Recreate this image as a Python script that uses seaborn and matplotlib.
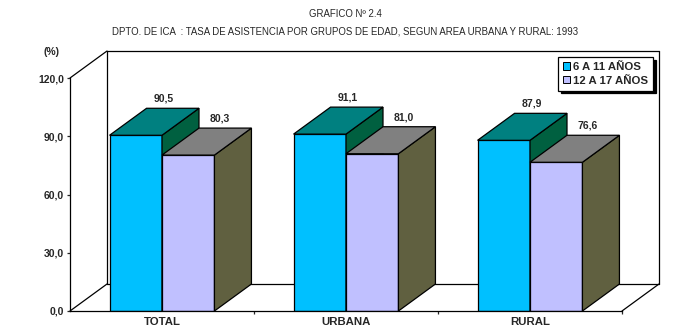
import numpy as np
import pandas as pd
import matplotlib
matplotlib.use("Agg")
import matplotlib.pyplot as plt
from matplotlib.patches import Polygon
from matplotlib.lines import Line2D
import seaborn as sns

# ---- data ----
areas = ["TOTAL", "URBANA", "RURAL"]
grupos = ["6 A 11 AÑOS", "12 A 17 AÑOS"]
tasa_6_11 = [90.5, 91.1, 87.9]
tasa_12_17 = [80.3, 81.0, 76.6]
yticks = [0, 30, 60, 90, 120]
title1 = "GRAFICO Nº 2.4"
title2 = "DPTO. DE ICA  : TASA DE ASISTENCIA POR GRUPOS DE EDAD, SEGUN AREA URBANA Y RURAL: 1993"

df = pd.DataFrame({
    "area": areas * 2,
    "grupo": [grupos[0]] * 3 + [grupos[1]] * 3,
    "tasa": tasa_6_11 + tasa_12_17,
})

front_colors = ["#00C0FF", "#C0C0FF"]
top_colors = ["#008080", "#808080"]
side_colors = ["#006040", "#606040"]

sns.set_style("white")
plt.rcParams["font.family"] = ["Liberation Sans", "DejaVu Sans"]

W, H = 689, 334
fig = plt.figure(figsize=(W / 100, H / 100), dpi=100)
ax = fig.add_axes([70 / W, (H - 311) / H, 552 / W, 233 / H])
ax.patch.set_alpha(0)

sns.barplot(data=df, x="area", y="tasa", hue="grupo", palette=front_colors,
            width=0.57, edgecolor="black", linewidth=0.9, saturation=1,
            ax=ax, legend=True)

ax.set_xlim(-0.5, 2.5)
ax.set_ylim(0, 120)

# depth offsets in data units
DX = 37 / 184
DY = 27 / (233 / 120)

lw = 0.9
x0, x1 = -0.5, 2.5
wall_lines = [
    ([x0 + DX, x0 + DX], [DY, 120 + DY]),
    ([x0 + DX, x1 + DX], [120 + DY, 120 + DY]),
    ([x1 + DX, x1 + DX], [120 + DY, DY]),
    ([x0 + DX, x1 + DX], [DY, DY]),
    ([x0, x0 + DX], [0, DY]),
    ([x0, x0 + DX], [120, 120 + DY]),
    ([x1, x1 + DX], [0, DY]),
]
for xs, ys in wall_lines:
    ax.add_line(Line2D(xs, ys, color="black", lw=lw, clip_on=False, zorder=0.5))

# 3D faces for bars
for i, cont in enumerate(ax.containers):
    z = 2 + i
    for p in cont.patches:
        p.set_zorder(z)
        bx0 = p.get_x()
        bx1 = bx0 + p.get_width()
        h = p.get_height()
        top = Polygon([(bx0, h), (bx1, h), (bx1 + DX, h + DY), (bx0 + DX, h + DY)],
                      closed=True, facecolor=top_colors[i], edgecolor="black",
                      lw=lw, clip_on=False, zorder=z)
        side = Polygon([(bx1, 0), (bx1 + DX, DY), (bx1 + DX, h + DY), (bx1, h)],
                       closed=True, facecolor=side_colors[i], edgecolor="black",
                       lw=lw, clip_on=False, zorder=z)
        ax.add_patch(side)
        ax.add_patch(top)
        ax.text(bx0 + p.get_width() / 2 + 0.15 + 0.02 * i, h + DY + 2.3,
                f"{h:.1f}".replace(".", ","), ha="center", va="bottom",
                fontsize=7.5, fontweight="bold", zorder=6, clip_on=False)

# axes styling
for s in ["top", "right"]:
    ax.spines[s].set_visible(False)
for s in ["left", "bottom"]:
    ax.spines[s].set_linewidth(lw)
    ax.spines[s].set_color("black")
    ax.spines[s].set_zorder(4)

ax.set_yticks(yticks)
ax.set_yticklabels([f"{v:.1f}".replace(".", ",") for v in yticks],
                   fontsize=7.5, fontweight="bold")
ax.tick_params(axis="y", direction="out", length=2.2, width=lw, pad=2, left=True)
ax.set_xticks(range(len(areas)))
ax.set_xticklabels(areas, fontsize=8.2, fontweight="bold")
ax.tick_params(axis="x", which="major", length=0, pad=4.5)
ax.set_xticks([0.5, 1.5, 2.5], minor=True)
ax.tick_params(axis="x", which="minor", direction="out", length=2.2, width=lw, bottom=True)
ax.set_xlabel("")
ax.set_ylabel("")

fig.text(52 / W, 1 - 52 / H, "(%)", ha="center", va="center",
         fontsize=7.5, fontweight="bold")
fig.text(345 / W, 1 - 14 / H, title1, ha="center", va="center", fontsize=6.9)
fig.text(345 / W, 1 - 32 / H, title2, ha="center", va="center", fontsize=6.9)

handles, labels = ax.get_legend_handles_labels()
ax.get_legend().remove()
leg = ax.legend(handles, labels, loc="upper right",
                bbox_to_anchor=(653 / W, 1 - 57 / H), bbox_transform=fig.transFigure,
                borderaxespad=0, frameon=True, fancybox=False,
                shadow={"color": "black", "alpha": 1},
                prop={"size": 8.2, "weight": "bold"},
                handlelength=0.6, handleheight=0.6, handletextpad=0.25,
                labelspacing=0.3, borderpad=0.45)
leg.get_frame().set_edgecolor("black")
leg.get_frame().set_linewidth(lw)
leg.get_frame().set_facecolor("white")
leg.get_frame().set_alpha(1)
leg.set_zorder(10)
for hnd in leg.legend_handles:
    hnd.set_edgecolor("black")
    hnd.set_linewidth(0.7)

fig.savefig("out.png", dpi=100, facecolor="white")
